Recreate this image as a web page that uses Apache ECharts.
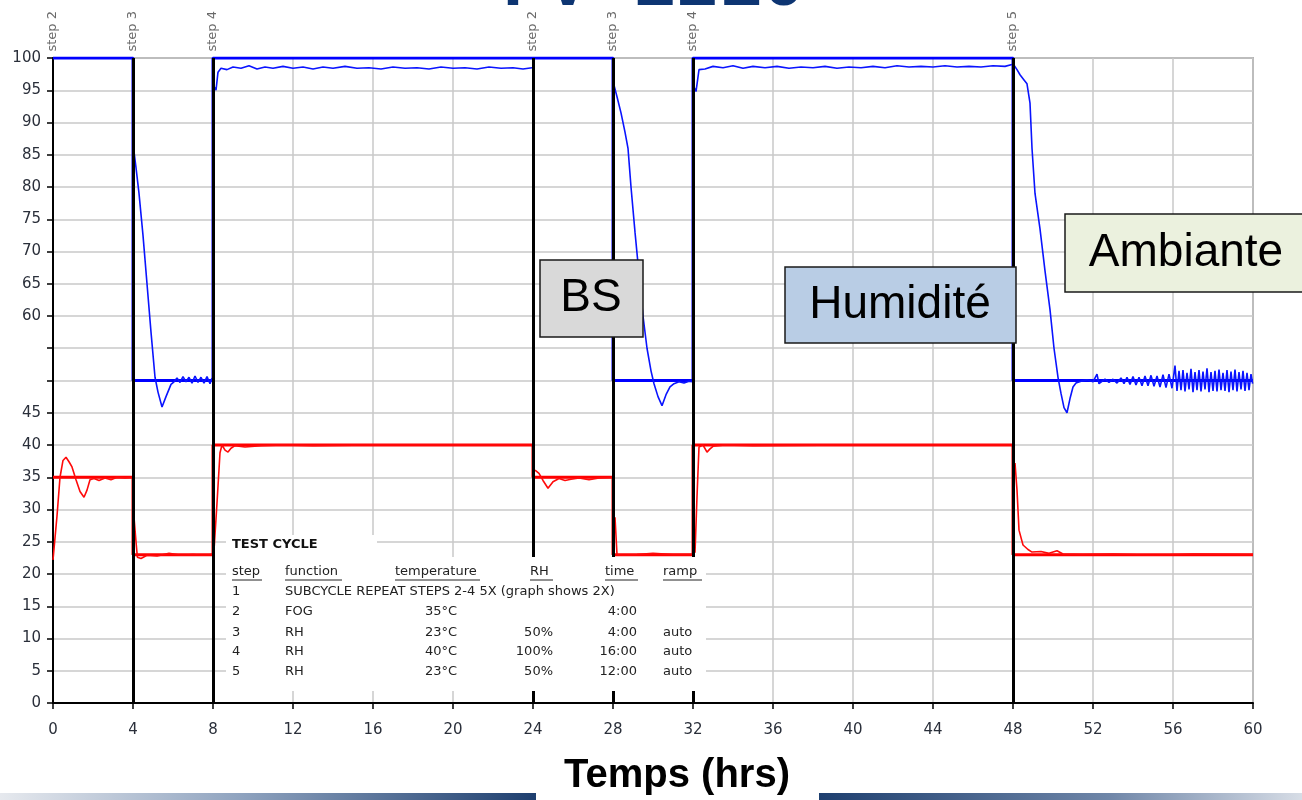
<!DOCTYPE html>
<html>
<head>
<meta charset="utf-8">
<script src="https://cdn.jsdelivr.net/npm/echarts@6/dist/echarts.min.js"></script>
<style>
html,body{margin:0;padding:0;background:#fff;}
#chart{width:1302px;height:800px;}
</style>
</head>
<body>
<div id="chart"></div>
<script>
// ---- data ----
const stepX = [0, 4, 8, 24, 28, 32, 48];
const stepNames = ['step 2', 'step 3', 'step 4', 'step 2', 'step 3', 'step 4', 'step 5'];

const humiditySetpoint = [[0,100],[4,100],[4,50],[8,50],[8,100],[24,100],[28,100],[28,50],[32,50],[32,100],[48,100],[48,50],[60,50]];
const temperatureSetpoint = [[0,35],[4,35],[4,23],[8,23],[8,40],[24,40],[24,35],[28,35],[28,23],[32,23],[32,40],[48,40],[48,23],[60,23]];

const humidityActual1 = [[4.05,85.5],[4.15,83],[4.3,79],[4.5,72.5],[4.7,65],[4.9,57.5],[5.1,50.5],[5.25,48.2],[5.45,45.9],[5.65,47.5],[5.9,49.4],[6.05,49.8],[6.2,50.4],[6.35,49.7],[6.5,50.6],[6.65,49.8],[6.8,50.5],[6.95,49.6],[7.1,50.7],[7.25,49.7],[7.4,50.5],[7.55,49.6],[7.7,50.6],[7.85,49.5],[7.95,50.4]];
const humidityActual2 = [[8.05,95.6],[8.15,95],[8.25,97.8],[8.4,98.4],[8.7,98.2],[9.0,98.6],[9.4,98.4],[9.8,98.8],[10.2,98.3],[10.6,98.6],[11.0,98.4],[11.5,98.7],[12.0,98.4],[12.5,98.6],[13.0,98.3],[13.5,98.6],[14.0,98.4],[14.6,98.7],[15.2,98.4],[15.8,98.5],[16.4,98.3],[17.0,98.6],[17.6,98.4],[18.2,98.5],[18.8,98.3],[19.4,98.6],[20.0,98.4],[20.6,98.5],[21.2,98.3],[21.8,98.6],[22.4,98.4],[23.0,98.5],[23.5,98.3],[23.95,98.5]];
const humidityActual3 = [[28.05,95.8],[28.2,94],[28.4,91.5],[28.6,88.5],[28.75,86],[28.9,80],[29.1,73],[29.3,66.5],[29.5,60],[29.7,55],[29.9,51.5],[30.05,49.5],[30.25,47.5],[30.45,46.1],[30.65,47.8],[30.85,49],[31.05,49.5],[31.3,49.8],[31.55,49.6],[31.8,49.9],[31.95,49.8]];
const humidityActual4 = [[32.05,95.5],[32.15,94.8],[32.3,98.2],[32.6,98.3],[33.0,98.7],[33.5,98.5],[34.0,98.8],[34.5,98.4],[35.0,98.7],[35.6,98.5],[36.2,98.7],[36.8,98.4],[37.4,98.6],[38.0,98.5],[38.6,98.7],[39.2,98.4],[39.8,98.6],[40.4,98.5],[41.0,98.7],[41.6,98.5],[42.2,98.8],[42.8,98.6],[43.4,98.7],[44.0,98.6],[44.6,98.8],[45.2,98.6],[45.8,98.7],[46.4,98.6],[47.0,98.8],[47.6,98.7],[47.95,99]];
const humidityActual5 = [[48.05,98.9],[48.2,98.2],[48.35,97.4],[48.55,96.6],[48.7,96],[48.85,93],[48.95,86],[49.1,79],[49.35,73.5],[49.6,67],[49.85,61],[50.05,55],[50.25,50.5],[50.4,48],[50.55,45.8],[50.7,45],[50.85,47.2],[51.0,49],[51.15,49.6],[51.4,49.9],[51.7,50.1],[52.0,49.8],[52.2,51.0],[52.3,49.5],[52.6,50.2],[52.8,49.7],[53.0,50.2],[53.2,49.6],[53.4,50.4],[53.55,49.5],[53.7,50.5],[53.85,49.4],[54.0,50.6],[54.15,49.3],[54.3,50.5],[54.45,49.2],[54.6,50.7],[54.75,49.2],[54.9,50.8],[55.05,49.1],[55.2,50.7],[55.35,49.0],[55.5,50.9],[55.65,48.9],[55.8,51.0],[55.95,48.8],[56.1,52.3],[56.2,48.4],[56.3,51.5],[56.4,48.5],[56.5,51.6],[56.6,48.3],[56.7,51.2],[56.8,48.6],[56.9,51.8],[57.0,48.2],[57.1,51.3],[57.2,48.5],[57.3,51.6],[57.4,48.3],[57.5,51.4],[57.6,48.6],[57.7,51.9],[57.8,48.2],[57.9,51.3],[58.0,48.4],[58.1,51.5],[58.2,48.3],[58.3,51.7],[58.4,48.5],[58.5,51.2],[58.6,48.4],[58.7,51.6],[58.8,48.2],[58.9,51.4],[59.0,48.5],[59.1,51.7],[59.2,48.3],[59.3,51.3],[59.4,48.6],[59.5,51.5],[59.6,48.4],[59.7,51.2],[59.8,48.5],[59.9,51.0],[59.98,49.5]];

const temperatureActual1 = [[0.0,22.2],[0.2,29],[0.35,35],[0.5,37.6],[0.65,38.1],[0.8,37.4],[0.95,36.6],[1.15,34.6],[1.35,32.8],[1.55,31.9],[1.7,33],[1.85,34.6],[2.05,34.8],[2.3,34.5],[2.6,34.9],[2.9,34.6],[3.2,35],[3.6,34.9],[3.95,35]];
const temperatureActual2 = [[4.05,28.8],[4.15,25],[4.22,22.6],[4.4,22.4],[4.7,22.9],[5.2,22.8],[5.8,23.2],[6.4,22.9],[7.0,23],[7.5,22.9],[7.95,23]];
const temperatureActual3 = [[8.05,23.7],[8.2,31],[8.35,38.8],[8.45,40],[8.6,39.2],[8.75,38.9],[8.9,39.5],[9.1,39.9],[9.6,39.7],[10.4,39.9],[11.5,40],[13,39.9],[16,40],[20,40],[23.95,40]];
const temperatureActual4 = [[24.1,36.1],[24.3,35.6],[24.5,34.5],[24.75,33.3],[25.0,34.3],[25.3,34.8],[25.6,34.5],[25.9,34.7],[26.3,34.9],[26.8,34.6],[27.3,34.9],[27.95,35]];
const temperatureActual5 = [[28.1,28.8],[28.2,23],[28.5,22.9],[29.2,23],[30.0,23.2],[31.0,23],[31.95,23]];
const temperatureActual6 = [[32.1,23.3],[32.2,32],[32.3,39.7],[32.5,40],[32.7,38.9],[32.85,39.4],[33.0,39.8],[33.6,40],[35,39.9],[40,40],[44,40],[47.95,40]];
const temperatureActual7 = [[48.1,37.2],[48.2,33],[48.3,26.8],[48.5,24.5],[48.75,23.8],[48.95,23.4],[49.4,23.5],[49.8,23.2],[50.2,23.6],[50.5,23.1],[51.5,23],[53,23.1],[55,22.9],[57,23.1],[60,23]];

const humidityActual = [humidityActual1, humidityActual2, humidityActual3, humidityActual4, humidityActual5];
const temperatureActual = [temperatureActual1, temperatureActual2, temperatureActual3, temperatureActual4, temperatureActual5, temperatureActual6, temperatureActual7];

const hiddenYLabels = [50, 55];

const tableHeaders = ['step', 'function', 'temperature', 'RH', 'time', 'ramp'];
const tableRows = [
  ['1', 'SUBCYCLE REPEAT STEPS 2-4 5X (graph shows 2X)', '', '', '', ''],
  ['2', 'FOG', '35°C', '', '4:00', ''],
  ['3', 'RH', '23°C', '50%', '4:00', 'auto'],
  ['4', 'RH', '40°C', '100%', '16:00', 'auto'],
  ['5', 'RH', '23°C', '50%', '12:00', 'auto']
];

// ---- chart ----
const chart = echarts.init(document.getElementById('chart'), null, {renderer: 'canvas'});

const series = [];
series.push({type:'line', data: humiditySetpoint, showSymbol:false, lineStyle:{color:'#0000ff', width:3}, z:3, animation:false});
series.push({type:'line', data: temperatureSetpoint, showSymbol:false, lineStyle:{color:'#ff0000', width:3}, z:3, animation:false});
humidityActual.forEach(seg => series.push({type:'line', data: seg, showSymbol:false, lineStyle:{color:'#0a14ff', width:1.6}, z:4, animation:false}));
temperatureActual.forEach(seg => series.push({type:'line', data: seg, showSymbol:false, lineStyle:{color:'#ff0a0a', width:1.6}, z:4, animation:false}));
// step lines
series.push({
  type:'line', data:[], animation:false, z:6,
  markLine:{
    silent:true, symbol:['none','none'], animation:false,
    lineStyle:{color:'#000', width:3, type:'solid'},
    label:{show:false},
    data: stepX.filter(v => v > 0).map(v => [{coord:[v,0]},{coord:[v,100]}])
  }
});
// step labels
series.push({
  type:'scatter', symbolSize:1, itemStyle:{color:'rgba(0,0,0,0)'}, animation:false, z:7,
  data: stepX.map((v,i) => ({value:[v,100], name: stepNames[i]})),
  label:{show:true, position:'top', distance:6, rotate:90, align:'left', verticalAlign:'middle',
    formatter: p => p.name, color:'#444', fontSize:13, fontFamily:'DejaVu Sans'}
});

const graphics = [];
// title (partially cut off at the top)
graphics.push({type:'text', left:503, top:-49, z:50, style:{text:'PV 1210', font:'bold 72px "Liberation Mono", monospace', fill:'#0d3572'}});
// table background
graphics.push({type:'rect', shape:{x:226, y:535, width:151, height:23}, style:{fill:'#fff'}, z:20});
graphics.push({type:'rect', shape:{x:226, y:557, width:480, height:134}, style:{fill:'#fff'}, z:20});
graphics.push({type:'text', x:232, y:545, z:21, style:{text:'TEST CYCLE', font:'bold 13px "DejaVu Sans"', fill:'#111', verticalAlign:'middle'}});
const colX = [232, 285, 395, 530, 605, 663];
const colRight = [null, null, 457, 553, 637, null];
const rowY = [572, 592, 612, 633, 652, 672];
tableHeaders.forEach((h,i) => {
  graphics.push({type:'text', x:colX[i], y:rowY[0], z:21, style:{text:h, font:'13px "DejaVu Sans"', fill:'#222', verticalAlign:'middle'}});
});
const headerW = [30, 57, 85, 23, 33, 39];
tableHeaders.forEach((h,i) => {
  graphics.push({type:'line', z:21, shape:{x1:colX[i], y1:580, x2:colX[i]+headerW[i], y2:580}, style:{stroke:'#222', lineWidth:1}});
});
tableRows.forEach((r,ri) => {
  r.forEach((c,ci) => {
    if (!c) return;
    const right = colRight[ci];
    graphics.push({type:'text', x: right !== null ? right : colX[ci], y: rowY[ri+1], z:21,
      style:{text:c, font:'13px "DejaVu Sans"', fill:'#222', verticalAlign:'middle', align: right !== null ? 'right' : 'left'}});
  });
});
// label boxes
function box(x, y, w, h, fill, text, tx) {
  graphics.push({type:'rect', z:30, shape:{x:x, y:y, width:w, height:h}, style:{fill:fill, stroke:'#1a1a1a', lineWidth:1.5}});
  graphics.push({type:'text', z:31, x: tx, y: y + h/2, style:{text:text, font:'46px "Liberation Sans", Arial, sans-serif', fill:'#000', align:'center', verticalAlign:'middle'}});
}
box(540, 260, 103, 77, '#d9d9d9', 'BS', 591);
box(785, 267, 231, 76, '#b9cde5', 'Humidité', 900);
box(1065, 214, 250, 78, '#ebf1de', 'Ambiante', 1186);
// bottom decoration
graphics.push({type:'rect', z:40, shape:{x:0, y:793, width:536, height:7}, style:{fill:new echarts.graphic.LinearGradient(0,0,1,0,[{offset:0,color:'#e6e9ee'},{offset:0.45,color:'#8fa3bf'},{offset:1,color:'#1e3f6f'}])}});
graphics.push({type:'rect', z:40, shape:{x:819, y:793, width:483, height:7}, style:{fill:new echarts.graphic.LinearGradient(0,0,1,0,[{offset:0,color:'#1e3f6f'},{offset:0.6,color:'#6f86a8'},{offset:1,color:'#d7dde6'}])}});
// x axis title
graphics.push({type:'text', z:41, x:677, y:776, style:{text:'Temps (hrs)', font:'bold 40px "Liberation Sans", Arial, sans-serif', fill:'#000', align:'center', verticalAlign:'middle'}});

chart.setOption({
  animation:false,
  backgroundColor:'#fff',
  grid:{left:53, right:49, top:58, bottom:97, show:true, borderColor:'#7a7a7a', borderWidth:1.5, backgroundColor:'#fff'},
  xAxis:{type:'value', min:0, max:60, interval:4,
    axisLine:{show:true, onZero:false, lineStyle:{color:'#000', width:2}},
    axisTick:{show:true, length:6, lineStyle:{color:'#000', width:1.5}},
    axisLabel:{color:'#2a2f3a', fontSize:15, fontFamily:'DejaVu Sans', margin:20},
    splitLine:{show:true, lineStyle:{color:'#c8c8c8', width:1.5}}
  },
  yAxis:{type:'value', min:0, max:100, interval:5,
    axisLine:{show:true, onZero:false, lineStyle:{color:'#000', width:2}},
    axisTick:{show:true, length:6, lineStyle:{color:'#000', width:1.5}},
    axisLabel:{color:'#2a2f3a', fontSize:15, fontFamily:'DejaVu Sans', margin:12,
      formatter: v => hiddenYLabels.indexOf(v) >= 0 ? '' : String(v)},
    splitLine:{show:true, lineStyle:{color:'#c8c8c8', width:1.5}}
  },
  series: series,
  graphic: graphics
});
</script>
</body>
</html>
